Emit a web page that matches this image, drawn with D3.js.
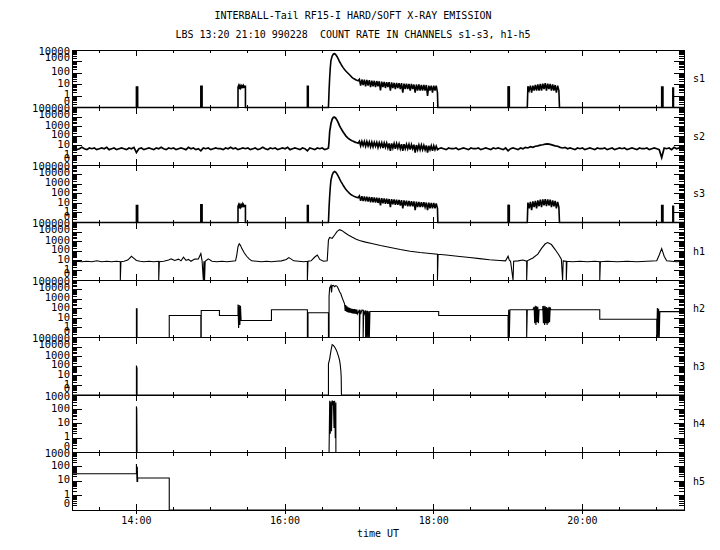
<!DOCTYPE html>
<html>
<head>
<meta charset="utf-8">
<script src="https://cdn.jsdelivr.net/npm/d3@7"></script>
<style>
  body { margin: 0; background: #fff; }
  text { font-family: "DejaVu Sans Mono", monospace; fill: #000; }
</style>
</head>
<body>
<div class="chart"></div>
<script>
// ---- data (times UT, counts per channel) ----
const titleLines = ["INTERBALL-Tail RF15-I HARD/SOFT X-RAY EMISSION",
                    "LBS 13:20 21:10 990228  COUNT RATE IN CHANNELS s1-s3, h1-h5"];
const channels = ["s1", "s2", "s3", "h1", "h2", "h3", "h4", "h5"];
const channelMax = [1e4, 1e5, 1e5, 1e5, 1e5, 1e5, 1e3, 1e3];
const timeRange = ["13:08", "21:22"];
const timeLabels = ["14:00", "16:00", "18:00", "20:00"];
const xTitle = "time UT";

// s1
const s1Part1 = [
  ["13:08",0],["14:00",0],["14:00",7],["14:00.5",3],["14:01",7],["14:01",0],
  ["14:52",0],["14:52",7],["14:53",7],["14:53",0],
  ["15:22",0],["15:22",6],["15:22.5",8],["15:23",4],["15:23.5",7],["15:24",5],["15:24.5",8],["15:25",6],
  ["15:25.5",9],["15:26",5],["15:26.5",8],["15:27",6],["15:27.5",7],["15:28",7],["15:28",0],
  ["16:18",0],["16:18",7],["16:18.7",7],["16:18.7",0],
  ["16:35",0],["16:35.5",3],["16:36",40],["16:36.5",300],["16:37",1200],["16:38",3000],["16:39",4500],
  ["16:40",4800],["16:41",3800],["16:42",2600],["16:43",1600],["16:44",950],["16:45",620],["16:46",400],
  ["16:47",280],["16:48",200],["16:49",150],["16:50",115],["16:51",90],["16:52",70],["16:53",55],
  ["16:54",42],["16:55",34],["16:56",30],["16:57",26],["16:58",23],["16:59",21]
];
const s1Decay = [ // 17:00 .. 18:03, one per minute
  28,8,27,9,26,7,25,8,24,6,
  22,7,21,6,20,7,19,3,18,6,
  17,5,16,6,16,3,15,5,14,4,
  14,5,13,4,13,2,12,4,12,4,
  11,3,11,4,10,2,10,3,10,3,
  9,3,9,3,9,1,8,3,8,2,
  8,3,8,2
];
const s1Part2 = [
  ["18:03.3",0],["19:00",0],["19:00",7],["19:00.5",4],["19:01",7],["19:01",0],["19:15.5",0]
];
const s1Block = [ // 19:16 .. 19:41
  7,3,8,2,8,3,9,3,10,3,
  11,3,12,4,13,3,12,4,11,3,
  10,3,9,2,8,3
];
const s1Part3 = [
  ["19:41.5",0],["21:04",0],["21:04",6],["21:05",6],["21:05",0],
  ["21:13",0],["21:13",5],["21:13.5",5],["21:13.5",0],["21:22",0]
];

// s2
const s2Base1 = [ // 13:08 .. 16:34, every 2 min
  5,6,4,5,7,5,4,6,5,6,
  4,5,6,5,7,4,5,6,4,5,
  6,5,4,6,5,7,2,5,6,4,
  5,6,5,4,6,5,7,5,4,6,
  5,6,4,5,6,5,4,7,5,6,
  4,5,3,6,5,6,4,5,6,5,
  5,4,6,5,7,5,6,4,5,6,
  5,6,4,5,6,4,5,7,5,4,
  6,5,6,4,5,6,5,7,4,5,
  6,5,4,6,5,3,6,5,4,6,
  5,6,4,5
];
const s2Flare = [
  ["16:35",6],["16:35.5",30],["16:36",300],["16:37",2000],["16:38",6000],["16:39",9500],["16:40",10000],
  ["16:41",7500],["16:42",4500],["16:43",2500],["16:44",1200],["16:45",700],["16:46",420],["16:47",260],
  ["16:48",170],["16:49",110],["16:50",80],["16:51",60],["16:52",48],["16:53",40],["16:54",34],
  ["16:55",30],["16:56",26],["16:57",23],["16:58",21],["16:59",19]
];
const s2Decay = [ // 17:00 .. 18:03
  30,10,29,11,28,9,27,10,25,8,
  24,8,23,9,22,7,21,8,20,6,
  20,7,19,6,18,3,18,6,17,5,
  17,6,16,5,15,3,15,5,14,5,
  14,4,13,5,13,2,12,4,12,4,
  12,4,11,4,11,2,10,4,10,3,
  10,4,9,4
];
const s2Base2 = [ // 18:04 .. 21:22, every 2 min
  5,6,5,4,6,5,5,6,4,5,
  6,5,4,6,5,5,6,4,5,6,
  5,4,6,5,6,5,4,6,3,5,
  6,5,4,6,5,7,6,8,7,9,
  10,12,13,15,16,14,12,10,9,7,
  6,7,5,6,5,4,6,5,6,4,
  5,6,5,4,6,5,5,6,4,5,
  6,4,5,6,5,6,4,5,6,5,
  4,6,5,5,6,4,5,6,5,4,
  0.6,6,5,6,4,7,5,6,5,5
];

// s3
const s3Part1 = [
  ["13:08",0],["14:00",0],["14:00",7],["14:00.5",3],["14:01",7],["14:01",0],
  ["14:52",0],["14:52",7],["14:53",7],["14:53",0],
  ["15:22",0],["15:22",5],["15:22.5",7],["15:23",3],["15:23.5",6],["15:24",4],["15:24.5",7],["15:25",5],
  ["15:25.5",8],["15:26",4],["15:26.5",7],["15:27",5],["15:27.5",6],["15:28",6],["15:28",0],
  ["16:18",0],["16:18",6],["16:18.7",6],["16:18.7",0],
  ["16:35",0],["16:35.5",4],["16:36",60],["16:36.5",500],["16:37",2500],["16:38",9000],["16:39",17000],
  ["16:40",21000],["16:41",17000],["16:42",11000],["16:43",6500],["16:44",3500],["16:45",2000],
  ["16:46",1200],["16:47",720],["16:48",450],["16:49",300],["16:50",210],["16:51",150],["16:52",110],
  ["16:53",85],["16:54",70],["16:55",60],["16:56",52],["16:57",46],["16:58",42],["16:59",38]
];
const s3Decay = [ // 17:00 .. 18:03
  60,18,56,17,53,16,50,15,47,13,
  44,13,41,12,38,11,36,6,34,10,
  32,9,30,9,28,4,27,8,25,7,
  24,7,22,6,21,3,20,6,19,5,
  18,5,17,5,16,2,15,4,14,4,
  13,4,13,4,12,2,12,3,11,3,
  11,3,10,3
];
const s3Part2 = [
  ["18:03.3",0],["19:00",0],["19:00",7],["19:00.5",4],["19:01",7],["19:01",0],["19:15.5",0]
];
const s3Block = [ // 19:16 .. 19:41
  12,3,14,2,16,4,18,3,20,5,
  24,4,26,6,28,5,26,6,24,4,
  20,5,18,3,14,4
];
const s3Part3 = [
  ["19:41.5",0],["21:04",0],["21:04",6],["21:05",6],["21:05",0],
  ["21:13",0],["21:13",5],["21:13.5",5],["21:13.5",0],["21:22",0]
];

// h1
const h1Data = [
  ["13:08",8],["13:12",9],["13:16",8],["13:20",9],["13:24",8],["13:28",10],["13:32",8],["13:36",9],
  ["13:40",8],["13:44",9],["13:47",8],["13:47",0],["13:47.5",8],["13:50",9],["13:53",12],["13:56",30],
  ["13:58",18],["14:00",11],["14:03",9],["14:06",8],["14:10",9],["14:14",8],["14:18",9],["14:18",0],
  ["14:18.5",8],["14:22",9],["14:26",12],["14:28",16],["14:31",11],["14:34",15],["14:36",10],["14:38",24],
  ["14:40",11],["14:42",14],["14:44",9],["14:47",15],["14:50",16],["14:52",58],["14:53",10],["14:54",0],
  ["14:54.5",9],["14:55",0],["14:55.5",9],["14:58",16],["15:01",9],["15:05",8],["15:09",9],["15:13",8],
  ["15:17",9],["15:20",10],["15:21",40],["15:22",300],["15:23",600],["15:24",420],["15:25",200],
  ["15:27",70],["15:29",30],["15:31",16],["15:33",10],["15:37",9],["15:41",8],["15:45",9],["15:49",8],
  ["15:53",9],["15:57",10],["16:01",14],["16:03",22],["16:05",15],["16:07",10],["16:11",9],["16:15",8],
  ["16:18",9],["16:18",0],["16:18.5",9],["16:21",10],["16:24",25],["16:26",40],["16:28",14],["16:31",9],
  ["16:34",10],["16:35",1500],["16:36",2800],["16:38",2200],["16:40",5000],["16:42",12000],
  ["16:44",18000],["16:46",14000],["16:48",9000],["16:51",5000],["16:54",3000],["16:57",1900],
  ["17:00",1300],["17:05",900],["17:10",650],["17:17",400],["17:25",250],["17:33",150],["17:41",100],
  ["17:49",74],["17:57",58],["18:03",48],["18:03",0],["18:03.5",48],["18:10",40],["18:21",28],
  ["18:29",22],["18:37",17],["18:45",13],["18:53",11],["18:58",10],["19:00",30],["19:01",12],["19:02",9],
  ["19:04",0],["19:04.5",9],["19:08",10],["19:12",12],["19:15",9],["19:15",0],["19:15.5",10],["19:20",20],
  ["19:24",50],["19:27",200],["19:30",600],["19:32",800],["19:35",500],["19:38",150],["19:41",40],
  ["19:43",15],["19:44",0],["19:44.5",10],["19:47",9],["19:47",0],["19:47.5",9],["19:52",8],["19:58",9],
  ["20:04",8],["20:10",9],["20:14",8],["20:14",0],["20:14.5",8],["20:20",9],["20:28",8],["20:36",9],
  ["20:44",8],["20:52",9],["21:00",10],["21:02",40],["21:04",190],["21:06",30],["21:08",10],["21:12",9],
  ["21:16",8],["21:22",9]
];

// h2
const h2Data = [
  ["13:08",0],["14:00",0],["14:00",100],["14:00.5",100],["14:00.5",0],
  ["14:26.5",0],["14:26.5",20],["14:52",20],["14:52",0],["14:52.3",0],["14:52.3",66],["15:07",66],["15:07",20],
  ["15:22",20],["15:22",280],["15:22.5",1],["15:23",250],["15:23.5",2],["15:24",200],["15:24.5",6],
  ["15:49",6],["15:49",78],["16:18",78],["16:18",0],["16:18.5",0],["16:18.5",38],["16:35",38],["16:35",0],
  ["16:35.5",0],["16:35.5",2000],["16:36",15000],["16:37",27000],["16:37.5",5000],["16:38",25000],
  ["16:39",27000],["16:40",20000],["16:41",26000],["16:42",22000],["16:43",12000],["16:44",6000],
  ["16:45",3600],["16:46",1500],["16:47",700],
  ["16:48",330],["16:48.5",60],["16:49",250],["16:49.5",50],["16:50",180],["16:50.5",45],["16:51",140],
  ["16:51.5",40],["16:52",125],["16:52.5",38],["16:53",110],["16:53.5",35],["16:54",100],["16:54.5",33],
  ["16:55",95],["16:55.5",30],["16:56",90],["16:56.5",30],["16:57",85],["16:57.5",28],["16:58",80],
  ["16:58.5",30],["17:00",78],["17:00",0],["17:00.5",75],["17:01",28],["17:02",72],["17:03",70],
  ["17:03",0],["17:03.5",68],["17:04",28],["17:05",65],["17:05",0],["17:05.5",62],["17:06",0],
  ["17:06.5",60],["17:07",0],["17:07.5",55],["17:08",0],["17:08.5",51],
  ["18:04",51],["18:04",20],["19:00",20],["19:00",0],["19:00.5",80],["19:01",0],["19:01.5",78],
  ["19:15",78],["19:15",0],["19:15.5",78],["19:20",78],
  ["19:21",150],["19:21.5",3],["19:22",200],["19:22.5",2],["19:23",180],["19:23.5",4],["19:24",160],
  ["19:24.5",3],["19:25",80],["19:28",80],["19:28",190],["19:28.5",3],["19:29",210],["19:29.5",2],
  ["19:30",180],["19:30.5",3],["19:31",150],["19:31.5",2],["19:32",130],["19:32.5",3],["19:33",160],
  ["19:33.5",4],["19:34",140],["19:34.5",78],
  ["20:14",78],["20:14",8],["21:00",8],["21:00",0],["21:00.5",120],["21:01",0],["21:01.5",100],
  ["21:02",0],["21:02.5",50],["21:22",50]
];

// h3
const h3Data = [
  ["13:08",0],["14:00",0],["14:00",120],["14:00.5",60],["14:00.5",0],
  ["16:35",0],["16:35",180],["16:36",600],["16:37",4000],["16:38",18000],["16:39",15000],["16:40",10000],
  ["16:41",6000],["16:42",3000],["16:43",1200],["16:44",400],["16:44.5",150],["16:45",36],["16:45.3",7],
  ["16:45.5",0],["21:22",0]
];

// h4
const h4Data = [
  ["13:08",0],["14:00",0],["14:00",160],["14:00.3",100],["14:00.5",0],
  ["16:35.5",0],["16:36",400],["16:36.5",2],["16:37",350],["16:37.5",3],["16:38",420],["16:38.5",200],
  ["16:39",380],["16:39.5",5],["16:40",400],["16:40.5",1],["16:41",300],["16:41",0],["21:22",0]
];

// h5
const h5Data = [
  ["13:08",33],["14:00",33],["14:00",160],["14:00.5",9],["14:00.7",100],["14:01",9],["14:01",17],
  ["14:26.5",17],["14:26.5",0],["21:22",0]
];

// ---- helpers ----
const toMin = s => { const [h, m] = s.split(":"); return +h * 60 + parseFloat(m); };
const pts = arr => arr.map(([t, v]) => [toMin(t), v]);
const run = (start, step, vals) => vals.map((v, i) => [toMin(start) + i * step, v]);

const seriesData = [
  [...pts(s1Part1), ...run("17:00", 1, s1Decay), ...pts(s1Part2), ...run("19:16", 1, s1Block), ...pts(s1Part3)],
  [...run("13:08", 2, s2Base1), ...pts(s2Flare), ...run("17:00", 1, s2Decay), ...run("18:04", 2, s2Base2)],
  [...pts(s3Part1), ...run("17:00", 1, s3Decay), ...pts(s3Part2), ...run("19:16", 1, s3Block), ...pts(s3Part3)],
  pts(h1Data), pts(h2Data), pts(h3Data), pts(h4Data), pts(h5Data)
];
// soft channels are sampled densely in the original, so they print heavier
const strokeW = [1.6, 1.7, 1.6, 1.1, 1.1, 1.1, 1.1, 1.1];

// ---- layout ----
const width = 720, height = 550;
const plotLeft = 72, plotRight = 684, plotTop = 50, panelH = 57.5;
const plotBottom = plotTop + panelH * channels.length;

const svg = d3.select(".chart")
  .append("svg")
  .attr("width", width)
  .attr("height", height);

// titles
titleLines.forEach((t, i) => {
  svg.append("text")
    .attr("x", 353)
    .attr("y", 19 + i * 19)
    .attr("text-anchor", "middle")
    .style("font-size", "10px")
    .style("white-space", "pre")
    .text(t);
});

const x = d3.scaleLinear()
  .domain(timeRange.map(toMin))
  .range([plotLeft, plotRight]);

const xTicks = d3.range(toMin("13:30"), toMin(timeRange[1]), 30);

channels.forEach((name, i) => {
  const top = plotTop + i * panelH;
  const bottom = top + panelH;
  const y = d3.scaleLog()
    .domain([0.1, channelMax[i]])
    .range([bottom, top]);

  const g = svg.append("g");

  // counts
  const line = d3.line()
    .x(d => x(d[0]))
    .y(d => y(Math.max(d[1], 0.1)));

  g.append("path")
    .datum(seriesData[i])
    .attr("fill", "none")
    .attr("stroke", "#000")
    .attr("stroke-width", strokeW[i])
    .attr("stroke-linejoin", "miter")
    .attr("d", line);

  // frame
  g.append("rect")
    .attr("x", plotLeft)
    .attr("y", top)
    .attr("width", plotRight - plotLeft)
    .attr("height", panelH)
    .attr("fill", "none")
    .attr("stroke", "#000")
    .attr("shape-rendering", "crispEdges");

  // log ticks left and right, pointing in
  const yTicks = y.ticks();
  const isMajor = v => Math.abs(Math.log10(v) - Math.round(Math.log10(v))) < 1e-6;
  yTicks.forEach(v => {
    const len = isMajor(v) ? 10 : 5;
    const yy = y(v);
    [[plotLeft, plotLeft + len], [plotRight - len, plotRight]].forEach(([a, b]) => {
      g.append("line")
        .attr("x1", a).attr("x2", b)
        .attr("y1", yy).attr("y2", yy)
        .attr("stroke", "#000")
        .attr("shape-rendering", "crispEdges");
    });
  });

  // log labels (squeezed near the top like the original)
  const majors = yTicks.filter(isMajor);
  const nDec = majors.length - 1;
  majors.forEach((v, k) => {
    let ly = y(v) - 1.5;
    if (v === 0.1) ly = bottom - 6.5;
    if (k === nDec) ly = top + 1;
    if (k === nDec - 1 && nDec >= 5) ly = top + 7;
    g.append("text")
      .attr("x", 70)
      .attr("y", ly)
      .attr("dy", "0.35em")
      .attr("text-anchor", "end")
      .style("font-size", "10.5px")
      .text(v === 0.1 ? "0" : d3.format("d")(v));
  });

  // time ticks top and bottom
  xTicks.forEach(t => {
    const major = t % 120 === 0;
    const len = major ? 6 : 3;
    const xx = x(t);
    g.append("line")
      .attr("x1", xx).attr("x2", xx)
      .attr("y1", top).attr("y2", top + len)
      .attr("stroke", "#000").attr("shape-rendering", "crispEdges");
    g.append("line")
      .attr("x1", xx).attr("x2", xx)
      .attr("y1", bottom - len).attr("y2", i === channels.length - 1 && major ? bottom + 4 : bottom)
      .attr("stroke", "#000").attr("shape-rendering", "crispEdges");
  });

  // channel name
  g.append("text")
    .attr("x", 693)
    .attr("y", (top + bottom) / 2)
    .attr("dy", "0.35em")
    .style("font-size", "10px")
    .text(name);
});

// time labels
timeLabels.forEach(t => {
  svg.append("text")
    .attr("x", x(toMin(t)))
    .attr("y", plotBottom + 14)
    .attr("text-anchor", "middle")
    .style("font-size", "10px")
    .text(t);
});

svg.append("text")
  .attr("x", 378)
  .attr("y", plotBottom + 27)
  .attr("text-anchor", "middle")
  .style("font-size", "10px")
  .text(xTitle);
</script>
</body>
</html>
